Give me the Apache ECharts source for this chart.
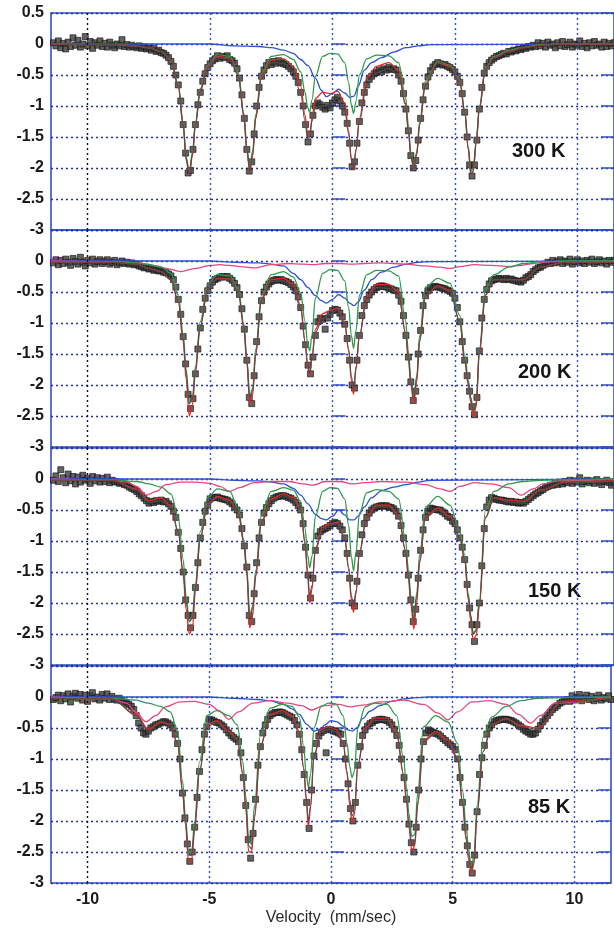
<!DOCTYPE html>
<html>
<head>
<meta charset="utf-8">
<title>Mössbauer spectra 300–85 K</title>
<script src="https://cdn.jsdelivr.net/npm/echarts/dist/echarts.min.js"></script>
<style>
  html, body { margin: 0; padding: 0; background: #ffffff; }
  #chart { width: 614px; height: 928px; }
</style>
</head>
<body>
<div id="chart"></div>
<script>
// ---- measured spectra: channel velocities (mm/s), one row = 10 channels ----
const velocity = [
  -11.4,-11.3,-11.2,-11.1,-11,-10.9,-10.8,-10.7,-10.6,-10.5,
  -10.4,-10.3,-10.2,-10.1,-10,-9.9,-9.8,-9.7,-9.6,-9.5,
  -9.4,-9.3,-9.2,-9.1,-9,-8.9,-8.8,-8.7,-8.6,-8.5,
  -8.4,-8.3,-8.2,-8.1,-8,-7.9,-7.8,-7.7,-7.6,-7.5,
  -7.4,-7.3,-7.2,-7.1,-7,-6.9,-6.8,-6.7,-6.6,-6.5,
  -6.4,-6.3,-6.2,-6.1,-6,-5.9,-5.8,-5.7,-5.6,-5.5,
  -5.4,-5.3,-5.2,-5.1,-5,-4.9,-4.8,-4.7,-4.6,-4.5,
  -4.4,-4.3,-4.2,-4.1,-4,-3.9,-3.8,-3.7,-3.6,-3.5,
  -3.4,-3.3,-3.2,-3.1,-3,-2.9,-2.8,-2.7,-2.6,-2.5,
  -2.4,-2.3,-2.2,-2.1,-2,-1.9,-1.8,-1.7,-1.6,-1.5,
  -1.4,-1.3,-1.2,-1.1,-1,-0.9,-0.8,-0.7,-0.6,-0.5,
  -0.4,-0.3,-0.2,-0.1,0,0.1,0.2,0.3,0.4,0.5,
  0.6,0.7,0.8,0.9,1,1.1,1.2,1.3,1.4,1.5,
  1.6,1.7,1.8,1.9,2,2.1,2.2,2.3,2.4,2.5,
  2.6,2.7,2.8,2.9,3,3.1,3.2,3.3,3.4,3.5,
  3.6,3.7,3.8,3.9,4,4.1,4.2,4.3,4.4,4.5,
  4.6,4.7,4.8,4.9,5,5.1,5.2,5.3,5.4,5.5,
  5.6,5.7,5.8,5.9,6,6.1,6.2,6.3,6.4,6.5,
  6.6,6.7,6.8,6.9,7,7.1,7.2,7.3,7.4,7.5,
  7.6,7.7,7.8,7.9,8,8.1,8.2,8.3,8.4,8.5,
  8.6,8.7,8.8,8.9,9,9.1,9.2,9.3,9.4,9.5,
  9.6,9.7,9.8,9.9,10,10.1,10.2,10.3,10.4,10.5,
  10.6,10.7,10.8,10.9,11,11.1,11.2,11.3,11.4,11.5
];

// relative transmission (%) per channel
const counts300 = [
  0.02,-0.03,0.05,-0.06,0.01,-0.08,0.03,-0.04,0.1,-0.02,
  0.06,-0.05,0,0.12,-0.03,0.04,-0.07,0.02,-0.02,0.05,
  -0.04,0.01,-0.05,0.03,-0.02,-0.06,0,-0.03,0.07,-0.04,
  -0.01,-0.05,-0.02,-0.04,-0.06,-0.03,-0.07,-0.05,-0.08,-0.06,
  -0.1,-0.07,-0.12,-0.1,-0.14,-0.15,-0.18,-0.22,-0.28,-0.36,
  -0.5,-0.66,-0.92,-1.3,-1.76,-2.08,-2.04,-1.7,-1.3,-0.98,
  -0.78,-0.6,-0.48,-0.38,-0.32,-0.27,-0.24,-0.19,-0.23,-0.2,
  -0.22,-0.19,-0.25,-0.27,-0.31,-0.4,-0.55,-0.82,-1.2,-1.7,
  -2.05,-1.9,-1.45,-1.0,-0.7,-0.52,-0.42,-0.35,-0.3,-0.33,
  -0.28,-0.31,-0.27,-0.3,-0.32,-0.33,-0.36,-0.4,-0.45,-0.52,
  -0.62,-0.78,-1.0,-1.3,-1.58,-1.45,-1.15,-1.0,-0.95,-0.98,
  -1.02,-1.05,-0.99,-1.03,-0.95,-0.9,-0.86,-0.92,-1.0,-1.1,
  -1.28,-1.6,-1.98,-1.9,-1.6,-1.25,-0.95,-0.78,-0.66,-0.57,
  -0.52,-0.48,-0.46,-0.42,-0.45,-0.4,-0.42,-0.38,-0.41,-0.4,
  -0.42,-0.5,-0.6,-0.8,-1.05,-1.4,-1.8,-2.0,-1.88,-1.55,
  -1.2,-0.9,-0.68,-0.53,-0.43,-0.37,-0.33,-0.3,-0.32,-0.34,
  -0.33,-0.36,-0.38,-0.41,-0.45,-0.52,-0.62,-0.8,-1.1,-1.5,
  -1.95,-2.13,-1.95,-1.55,-1.05,-0.7,-0.47,-0.36,-0.3,-0.26,
  -0.23,-0.2,-0.19,-0.17,-0.15,-0.16,-0.12,-0.13,-0.1,-0.11,
  -0.08,-0.09,-0.06,-0.07,-0.04,-0.05,-0.02,-0.04,0.02,-0.03,
  0.01,-0.05,0.03,-0.02,0,-0.06,0.02,-0.03,0.04,-0.04,
  -0.01,0.03,-0.05,0,-0.02,0.05,-0.04,0.01,-0.06,0.02,
  -0.03,0.04,-0.02,0,-0.05,0.03,-0.04,0.01,-0.03,0.02
];
const counts200 = [
  -0.03,0.02,-0.06,0.01,-0.04,0.03,-0.02,-0.07,0.04,-0.01,
  -0.05,0.06,-0.02,-0.08,0.01,-0.03,0.03,-0.05,-0.01,0.02,
  -0.04,-0.01,0.02,-0.05,-0.02,0.01,-0.06,-0.03,0,-0.04,
  -0.02,-0.05,-0.03,-0.06,-0.05,-0.08,-0.09,-0.11,-0.1,-0.13,
  -0.12,-0.15,-0.14,-0.16,-0.16,-0.18,-0.19,-0.21,-0.24,-0.3,
  -0.42,-0.62,-0.86,-1.22,-1.66,-2.15,-2.38,-2.22,-1.82,-1.42,
  -1.08,-0.78,-0.6,-0.48,-0.4,-0.34,-0.3,-0.28,-0.26,-0.25,
  -0.26,-0.25,-0.28,-0.31,-0.36,-0.43,-0.54,-0.77,-1.1,-1.6,
  -2.2,-2.3,-1.85,-1.3,-0.9,-0.64,-0.5,-0.42,-0.37,-0.33,
  -0.31,-0.3,-0.31,-0.3,-0.32,-0.33,-0.35,-0.38,-0.42,-0.48,
  -0.58,-0.75,-1.05,-1.35,-1.68,-1.82,-1.55,-1.2,-0.98,-0.92,
  -0.94,-1.1,-0.92,-0.86,-0.8,-0.78,-0.79,-0.84,-0.9,-1.02,
  -1.25,-1.6,-2.0,-2.05,-1.6,-1.2,-0.88,-0.72,-0.62,-0.55,
  -0.5,-0.46,-0.43,-0.41,-0.4,-0.41,-0.42,-0.44,-0.45,-0.47,
  -0.48,-0.55,-0.65,-0.88,-1.2,-1.55,-1.95,-2.25,-2.1,-1.5,
  -1.12,-0.72,-0.56,-0.48,-0.43,-0.42,-0.41,-0.42,-0.43,-0.44,
  -0.45,-0.47,-0.49,-0.52,-0.6,-0.75,-0.98,-1.3,-1.6,-1.85,
  -2.1,-2.35,-2.48,-2.2,-1.45,-0.92,-0.62,-0.46,-0.37,-0.32,
  -0.3,-0.29,-0.28,-0.29,-0.3,-0.28,-0.3,-0.29,-0.31,-0.32,
  -0.33,-0.34,-0.31,-0.27,-0.25,-0.22,-0.17,-0.14,-0.11,-0.1,
  -0.07,-0.05,-0.02,-0.04,0.01,-0.03,-0.01,0.02,-0.04,0,
  -0.02,0.03,-0.05,-0.01,0.02,-0.03,0,-0.04,0.01,-0.02,
  0.03,-0.04,-0.01,0.02,-0.03,0,-0.05,0.01,-0.02,0.01
];
const counts150 = [
  -0.02,0.05,-0.04,0.15,0.02,-0.06,0.08,-0.03,0.04,-0.08,
  0.03,-0.05,0.06,-0.02,0.01,-0.07,0.04,-0.03,0.02,-0.05,
  0.01,-0.04,0.03,-0.06,-0.02,-0.04,-0.05,-0.07,-0.06,-0.09,
  -0.1,-0.13,-0.15,-0.17,-0.2,-0.24,-0.27,-0.31,-0.35,-0.39,
  -0.36,-0.38,-0.35,-0.36,-0.34,-0.37,-0.36,-0.4,-0.44,-0.52,
  -0.62,-0.86,-1.12,-1.5,-1.95,-2.2,-2.4,-2.2,-1.75,-1.35,
  -0.95,-0.7,-0.52,-0.42,-0.32,-0.3,-0.3,-0.29,-0.31,-0.32,
  -0.33,-0.34,-0.37,-0.4,-0.45,-0.5,-0.58,-0.8,-1.08,-1.42,
  -2.2,-2.3,-1.85,-1.35,-0.95,-0.7,-0.55,-0.46,-0.4,-0.35,
  -0.31,-0.29,-0.28,-0.27,-0.27,-0.28,-0.3,-0.31,-0.34,-0.38,
  -0.43,-0.5,-0.72,-1.1,-1.55,-1.92,-1.6,-1.15,-0.92,-0.85,
  -0.82,-0.8,-0.78,-0.75,-0.72,-0.7,-0.72,-0.76,-0.82,-0.95,
  -1.2,-1.6,-2.0,-2.05,-1.65,-1.2,-0.9,-0.72,-0.62,-0.55,
  -0.5,-0.47,-0.45,-0.44,-0.43,-0.44,-0.43,-0.45,-0.46,-0.48,
  -0.52,-0.6,-0.75,-0.95,-1.2,-1.55,-1.95,-2.3,-2.1,-1.6,
  -1.15,-0.82,-0.62,-0.52,-0.47,-0.48,-0.49,-0.5,-0.5,-0.53,
  -0.56,-0.6,-0.62,-0.68,-0.72,-0.82,-0.95,-1.1,-1.3,-1.7,
  -2.08,-2.35,-2.62,-2.35,-2.0,-1.4,-0.8,-0.45,-0.34,-0.3,
  -0.31,-0.33,-0.34,-0.34,-0.35,-0.36,-0.37,-0.36,-0.38,-0.37,
  -0.39,-0.38,-0.39,-0.36,-0.33,-0.3,-0.27,-0.24,-0.22,-0.19,
  -0.17,-0.14,-0.12,-0.1,-0.1,-0.07,-0.09,-0.05,-0.08,-0.04,
  -0.06,-0.02,-0.07,-0.03,-0.05,0.02,-0.08,-0.04,-0.02,-0.06,
  -0.03,-0.07,-0.01,-0.05,-0.09,-0.04,-0.02,-0.06,-0.1,-0.05
];
const counts85 = [
  -0.04,-0.01,0.03,-0.06,0.02,-0.03,0.05,-0.08,0.01,0.06,
  -0.02,0.04,-0.05,0.03,-0.07,0.02,0.07,-0.03,0,-0.05,
  0.04,-0.02,0.05,-0.04,0.01,-0.03,-0.05,-0.02,-0.06,-0.08,
  -0.1,-0.12,-0.15,-0.2,-0.3,-0.42,-0.5,-0.58,-0.6,-0.55,
  -0.5,-0.48,-0.45,-0.44,-0.42,-0.4,-0.4,-0.42,-0.45,-0.5,
  -0.6,-0.75,-1.0,-1.55,-1.95,-2.37,-2.65,-2.5,-2.1,-1.62,
  -1.2,-0.85,-0.6,-0.48,-0.36,-0.37,-0.39,-0.41,-0.42,-0.45,
  -0.48,-0.53,-0.58,-0.62,-0.65,-0.68,-0.72,-0.9,-1.3,-1.75,
  -2.3,-2.6,-2.2,-1.65,-1.1,-0.8,-0.58,-0.45,-0.36,-0.3,
  -0.27,-0.25,-0.25,-0.24,-0.25,-0.27,-0.29,-0.31,-0.33,-0.38,
  -0.45,-0.6,-0.85,-1.25,-1.7,-2.12,-1.5,-0.95,-0.75,-0.63,
  -0.57,-0.54,-0.9,-0.52,-0.53,-0.55,-0.56,-0.58,-0.6,-0.75,
  -1.0,-1.4,-1.8,-2.0,-1.7,-1.1,-0.8,-0.62,-0.53,-0.47,
  -0.43,-0.41,-0.38,-0.37,-0.36,-0.36,-0.37,-0.38,-0.41,-0.45,
  -0.52,-0.62,-0.78,-1.0,-1.3,-1.65,-2.05,-2.35,-2.5,-2.1,
  -1.5,-1.0,-0.72,-0.58,-0.53,-0.55,-0.57,-0.59,-0.6,-0.63,
  -0.67,-0.7,-0.74,-0.77,-0.8,-0.85,-1.0,-1.3,-1.7,-2.1,
  -2.4,-2.7,-2.84,-2.55,-1.85,-1.25,-0.98,-0.78,-0.6,-0.5,
  -0.45,-0.4,-0.38,-0.37,-0.36,-0.36,-0.36,-0.37,-0.38,-0.4,
  -0.42,-0.45,-0.48,-0.52,-0.55,-0.57,-0.6,-0.6,-0.58,-0.52,
  -0.46,-0.4,-0.35,-0.3,-0.25,-0.2,-0.17,-0.14,-0.1,-0.08,
  -0.06,-0.04,-0.07,0.02,-0.05,-0.01,0.04,-0.06,-0.02,0.03,
  -0.04,0.01,-0.06,-0.02,0.03,-0.05,-0.01,-0.03,0.02,-0.04
];

// ---- fitted curves: total envelope and the two sextets ----
const fitVelocity = [
  -11.5,-9,-8,-7.5,-7,-6.6,-6.3,-6.1,-5.98,-5.85,
  -5.72,-5.6,-5.4,-5.1,-4.7,-4.2,-3.85,-3.62,-3.5,-3.38,
  -3.26,-3.14,-2.9,-2.5,-2,-1.6,-1.3,-1.12,-1.02,-0.93,
  -0.84,-0.7,-0.4,-0.1,0.2,0.5,0.66,0.77,0.86,0.96,
  1.1,1.4,1.8,2.3,2.7,2.98,3.1,3.2,3.32,3.44,
  3.56,3.8,4.3,4.8,5.2,5.4,5.55,5.65,5.75,5.87,
  6,6.25,6.6,7.2,7.8,8.5,9.5,11.5
];

const fit300 = [
  0,-0.01,-0.03,-0.06,-0.12,-0.25,-0.68,-1.3,-1.85,-2.1,
  -1.78,-1.3,-0.76,-0.39,-0.22,-0.24,-0.5,-1.15,-1.7,-2.05,
  -1.78,-1.2,-0.55,-0.3,-0.31,-0.45,-0.8,-1.25,-1.55,-1.5,
  -1.25,-1.02,-1.0,-0.98,-0.88,-1.08,-1.45,-1.85,-2.0,-1.7,
  -1.25,-0.66,-0.46,-0.4,-0.5,-0.98,-1.4,-1.8,-2.0,-1.78,
  -1.3,-0.66,-0.31,-0.38,-0.62,-1.1,-1.7,-2.1,-2.05,-1.6,
  -1.05,-0.41,-0.23,-0.13,-0.06,-0.02,0,0
];
const green300 = [
  0,-0.01,-0.03,-0.06,-0.12,-0.25,-0.66,-1.27,-1.82,-2.06,
  -1.74,-1.26,-0.72,-0.34,-0.17,-0.2,-0.46,-1.12,-1.68,-2.0,
  -1.72,-1.14,-0.48,-0.2,-0.17,-0.25,-0.45,-0.78,-1.02,-1.1,
  -0.9,-0.52,-0.2,-0.15,-0.16,-0.3,-0.62,-0.98,-1.12,-0.92,
  -0.5,-0.24,-0.18,-0.19,-0.3,-0.85,-1.3,-1.75,-1.98,-1.74,
  -1.25,-0.6,-0.28,-0.34,-0.58,-1.06,-1.66,-2.06,-2.0,-1.56,
  -1.0,-0.38,-0.2,-0.1,-0.05,-0.01,0,0
];
const red300 = [
  0,-0.01,-0.03,-0.06,-0.12,-0.26,-0.7,-1.32,-1.87,-2.1,
  -1.8,-1.3,-0.75,-0.36,-0.2,-0.22,-0.5,-1.18,-1.72,-2.05,
  -1.8,-1.2,-0.52,-0.26,-0.24,-0.36,-0.68,-1.15,-1.45,-1.48,
  -1.2,-0.88,-0.78,-0.8,-0.76,-0.95,-1.4,-1.88,-2.02,-1.72,
  -1.2,-0.55,-0.36,-0.3,-0.42,-0.95,-1.4,-1.82,-2.0,-1.78,
  -1.3,-0.64,-0.3,-0.36,-0.6,-1.1,-1.7,-2.1,-2.05,-1.6,
  -1.05,-0.4,-0.22,-0.12,-0.06,-0.02,0,0
];

const fit200 = [
  -0.02,-0.02,-0.05,-0.12,-0.17,-0.3,-0.64,-1.25,-1.8,-2.3,
  -2.22,-1.75,-1.05,-0.46,-0.29,-0.3,-0.5,-1.05,-1.6,-2.2,
  -2.1,-1.5,-0.62,-0.33,-0.32,-0.42,-0.78,-1.3,-1.65,-1.8,
  -1.55,-1.15,-0.93,-0.86,-0.79,-1.02,-1.42,-1.85,-2.08,-1.7,
  -1.2,-0.62,-0.43,-0.44,-0.55,-1.15,-1.55,-1.95,-2.22,-1.9,
  -1.28,-0.56,-0.42,-0.49,-0.98,-1.6,-1.97,-2.22,-2.42,-2.3,
  -1.45,-0.54,-0.3,-0.3,-0.31,-0.1,-0.02,-0.02
];
const green200 = [
  -0.01,-0.01,-0.03,-0.06,-0.1,-0.2,-0.55,-1.18,-1.75,-2.3,
  -2.2,-1.7,-0.98,-0.38,-0.22,-0.24,-0.45,-1.02,-1.58,-2.18,
  -2.05,-1.42,-0.55,-0.22,-0.17,-0.26,-0.52,-0.98,-1.32,-1.45,
  -1.2,-0.6,-0.2,-0.14,-0.15,-0.32,-0.75,-1.2,-1.41,-1.12,
  -0.55,-0.22,-0.15,-0.16,-0.24,-0.95,-1.45,-1.9,-2.2,-1.86,
  -1.2,-0.42,-0.28,-0.36,-0.88,-1.52,-1.92,-2.2,-2.42,-2.28,
  -1.42,-0.45,-0.22,-0.1,-0.04,-0.01,0,0
];
const red200 = [
  -0.02,-0.02,-0.05,-0.12,-0.17,-0.3,-0.66,-1.3,-1.9,-2.5,
  -2.32,-1.8,-1.05,-0.45,-0.28,-0.29,-0.5,-1.08,-1.65,-2.3,
  -2.15,-1.52,-0.6,-0.3,-0.28,-0.38,-0.72,-1.3,-1.7,-1.85,
  -1.58,-1.1,-0.85,-0.8,-0.76,-1.0,-1.45,-1.92,-2.15,-1.75,
  -1.2,-0.58,-0.38,-0.38,-0.5,-1.15,-1.58,-2.0,-2.3,-1.95,
  -1.3,-0.55,-0.4,-0.47,-0.98,-1.62,-2.0,-2.28,-2.52,-2.35,
  -1.5,-0.55,-0.3,-0.3,-0.3,-0.1,-0.02,-0.02
];

const fit150 = [
  -0.02,-0.02,-0.18,-0.38,-0.35,-0.45,-0.86,-1.5,-2.0,-2.3,
  -2.25,-1.75,-0.95,-0.42,-0.3,-0.37,-0.54,-1.02,-1.5,-2.25,
  -2.1,-1.55,-0.7,-0.35,-0.27,-0.34,-0.5,-1.02,-1.48,-1.88,
  -1.72,-1.15,-0.82,-0.75,-0.72,-0.95,-1.42,-1.88,-2.05,-1.8,
  -1.2,-0.62,-0.45,-0.45,-0.6,-1.15,-1.55,-1.95,-2.28,-1.9,
  -1.32,-0.62,-0.5,-0.63,-0.95,-1.3,-1.9,-2.22,-2.5,-2.45,
  -2.0,-0.62,-0.31,-0.37,-0.39,-0.19,-0.06,-0.04
];
const green150 = [
  -0.01,-0.01,-0.04,-0.08,-0.13,-0.24,-0.62,-1.3,-1.9,-2.3,
  -2.2,-1.68,-0.85,-0.3,-0.16,-0.2,-0.48,-0.98,-1.45,-2.2,
  -2.05,-1.48,-0.58,-0.2,-0.14,-0.18,-0.36,-0.8,-1.22,-1.43,
  -1.25,-0.6,-0.2,-0.14,-0.15,-0.32,-0.75,-1.25,-1.48,-1.18,
  -0.55,-0.22,-0.17,-0.2,-0.32,-0.98,-1.45,-1.88,-2.25,-1.85,
  -1.22,-0.45,-0.28,-0.42,-0.85,-1.22,-1.85,-2.2,-2.5,-2.42,
  -1.95,-0.5,-0.2,-0.08,-0.04,-0.02,-0.01,0
];
const red150 = [
  -0.02,-0.02,-0.16,-0.35,-0.31,-0.43,-0.86,-1.55,-2.1,-2.5,
  -2.4,-1.8,-0.95,-0.4,-0.28,-0.34,-0.54,-1.05,-1.55,-2.4,
  -2.2,-1.58,-0.68,-0.32,-0.24,-0.3,-0.48,-1.05,-1.55,-2.0,
  -1.78,-1.12,-0.78,-0.72,-0.7,-0.95,-1.45,-1.95,-2.15,-1.85,
  -1.18,-0.6,-0.42,-0.42,-0.58,-1.15,-1.6,-2.02,-2.42,-2.0,
  -1.35,-0.6,-0.47,-0.6,-0.95,-1.32,-1.95,-2.3,-2.6,-2.52,
  -2.05,-0.62,-0.3,-0.34,-0.36,-0.18,-0.05,-0.03
];

const fit85 = [
  -0.02,-0.03,-0.3,-0.55,-0.42,-0.45,-0.75,-1.5,-2.0,-2.55,
  -2.55,-2.1,-1.2,-0.48,-0.41,-0.58,-0.7,-1.22,-1.75,-2.4,
  -2.45,-1.9,-0.8,-0.3,-0.25,-0.33,-0.6,-1.15,-1.6,-2.0,
  -1.75,-0.95,-0.57,-0.52,-0.56,-0.75,-1.2,-1.65,-1.92,-1.85,
  -1.1,-0.53,-0.38,-0.38,-0.62,-1.25,-1.65,-2.05,-2.38,-2.35,
  -1.7,-0.72,-0.59,-0.74,-1.0,-1.7,-2.25,-2.55,-2.78,-2.65,
  -1.85,-0.88,-0.45,-0.36,-0.48,-0.52,-0.08,-0.02
];
const green85 = [
  -0.01,-0.02,-0.05,-0.1,-0.15,-0.24,-0.55,-1.35,-1.92,-2.5,
  -2.5,-2.0,-1.05,-0.3,-0.22,-0.3,-0.45,-1.05,-1.6,-2.3,
  -2.38,-1.75,-0.62,-0.18,-0.12,-0.15,-0.32,-0.8,-1.25,-1.45,
  -1.25,-0.5,-0.15,-0.1,-0.11,-0.3,-0.75,-1.12,-1.3,-1.2,
  -0.5,-0.16,-0.1,-0.12,-0.3,-1.0,-1.45,-1.88,-2.25,-2.22,
  -1.55,-0.48,-0.3,-0.4,-0.75,-1.5,-2.1,-2.45,-2.72,-2.6,
  -1.75,-0.65,-0.32,-0.15,-0.06,-0.02,-0.01,0
];
const red85 = [
  -0.02,-0.03,-0.28,-0.52,-0.4,-0.44,-0.76,-1.52,-2.05,-2.65,
  -2.62,-2.15,-1.2,-0.46,-0.38,-0.55,-0.68,-1.25,-1.8,-2.5,
  -2.5,-1.95,-0.78,-0.28,-0.22,-0.3,-0.56,-1.15,-1.65,-2.1,
  -1.78,-0.95,-0.52,-0.48,-0.52,-0.72,-1.25,-1.75,-2.02,-1.9,
  -1.1,-0.5,-0.34,-0.34,-0.58,-1.25,-1.68,-2.1,-2.48,-2.4,
  -1.75,-0.7,-0.56,-0.7,-0.98,-1.72,-2.3,-2.62,-2.85,-2.7,
  -1.88,-0.88,-0.44,-0.35,-0.46,-0.5,-0.07,-0.02
];

// ---- broad central doublet ----
const bandVelocity = [
  -11.5,-5,-4,-3,-2.5,-2,-1.6,-1.3,-1,-0.7,
  -0.45,-0.25,0,0.25,0.5,0.7,0.88,1.05,1.3,1.6,
  2,2.5,3,3.5,4,11.5
];
const blue300 = [
  0,0,-0.03,-0.04,-0.06,-0.1,-0.15,-0.25,-0.35,-0.55,
  -0.75,-0.85,-0.8,-0.73,-0.79,-0.86,-0.84,-0.68,-0.42,-0.3,
  -0.22,-0.13,-0.06,-0.03,-0.01,0
];
const blue200 = [
  0,0,-0.02,-0.03,-0.05,-0.08,-0.2,-0.3,-0.43,-0.56,
  -0.64,-0.68,-0.62,-0.54,-0.6,-0.68,-0.72,-0.66,-0.47,-0.3,
  -0.18,-0.1,-0.05,-0.02,-0.01,0
];
const blue150 = [
  0,0,-0.02,-0.03,-0.05,-0.08,-0.15,-0.26,-0.4,-0.57,
  -0.64,-0.66,-0.6,-0.5,-0.58,-0.66,-0.66,-0.6,-0.45,-0.3,
  -0.19,-0.13,-0.09,-0.05,-0.02,0
];
const blue85 = [
  0,0,-0.02,-0.04,-0.06,-0.11,-0.19,-0.28,-0.44,-0.55,
  -0.52,-0.45,-0.38,-0.4,-0.47,-0.53,-0.55,-0.5,-0.35,-0.23,
  -0.14,-0.07,-0.03,-0.01,0,0
];

// ---- broad, weak sextet (below 300 K) ----
const wideVelocity = [
  -11.5,-9,-8.4,-8,-7.6,-7.2,-6.8,-6.2,-5.6,-5,
  -4.6,-4.2,-3.8,-3.2,-2.5,-1.8,-1.2,-0.8,-0.3,0.3,
  0.8,1.3,2,3,3.8,4.4,4.8,5.2,5.8,6.5,
  7.2,7.7,8.2,8.6,9.2,11.5
];
const pink200 = [
  0,-0.01,-0.02,-0.03,-0.05,-0.08,-0.12,-0.17,-0.12,-0.07,
  -0.06,-0.07,-0.09,-0.11,-0.06,-0.04,-0.05,-0.06,-0.04,-0.04,
  -0.05,-0.04,-0.03,-0.05,-0.08,-0.1,-0.12,-0.09,-0.06,-0.07,
  -0.09,-0.07,-0.04,-0.02,-0.01,0
];
const pink150 = [
  0,-0.02,-0.05,-0.12,-0.26,-0.2,-0.09,-0.05,-0.05,-0.07,
  -0.12,-0.2,-0.14,-0.06,-0.04,-0.04,-0.08,-0.1,-0.04,-0.04,
  -0.08,-0.06,-0.04,-0.05,-0.09,-0.16,-0.2,-0.12,-0.06,-0.08,
  -0.14,-0.26,-0.16,-0.08,-0.03,0
];
const pink85 = [
  0,-0.03,-0.1,-0.25,-0.4,-0.3,-0.16,-0.08,-0.07,-0.12,
  -0.22,-0.36,-0.24,-0.1,-0.06,-0.1,-0.14,-0.21,-0.14,-0.12,
  -0.16,-0.13,-0.08,-0.05,-0.12,-0.26,-0.37,-0.24,-0.08,-0.06,
  -0.12,-0.28,-0.42,-0.3,-0.1,0
];

const temperatures = ['300 K', '200 K', '150 K', '85 K'];
const velocityTicks = [-10, -5, 0, 5, 10];

// ---- layout and styling ----
const FONT = '"Liberation Sans", Arial, Helvetica, sans-serif';
const FRAME_BLUE = '#2f50c6';
const GRID_NAVY = '#27329c';
const GRID_BLUE = '#3452cf';
const layout = {
  left: 51,
  tops: [13, 230, 448, 666],
  height: 217,
  tempLabel: [[512, 151], [518, 372], [528, 591], [528, 807]]
};

const panels = [
  { counts: counts300, fit: fit300, green: green300, red: red300, blue: blue300, pink: null },
  { counts: counts200, fit: fit200, green: green200, red: red200, blue: blue200, pink: pink200 },
  { counts: counts150, fit: fit150, green: green150, red: red150, blue: blue150, pink: pink150 },
  { counts: counts85,  fit: fit85,  green: green85,  red: red85,  blue: blue85,  pink: pink85 }
];

const pairs = (xs, ys) => xs.map((x, i) => [x, ys[i]]);

const grids = [], xAxes = [], yAxes = [], series = [];

panels.forEach((p, i) => {
  const last = i === panels.length - 1;
  grids.push({
    left: layout.left, right: 0, top: layout.tops[i], height: layout.height,
    show: true, borderColor: FRAME_BLUE, borderWidth: 1.6, backgroundColor: 'transparent'
  });
  xAxes.push({
    type: 'value', gridIndex: i, min: -11.5, max: 11.5, splitNumber: 5,
    axisLine: { show: false }, axisTick: { show: false }, splitLine: { show: false },
    axisLabel: {
      show: last, fontSize: 16, fontWeight: 'bold', color: '#1a1a1a', fontFamily: FONT, margin: 9,
      formatter: v => (velocityTicks.indexOf(v) >= 0 ? String(v) : '')
    },
    name: last ? 'Velocity  (mm/sec)' : '',
    nameLocation: 'middle', nameGap: 27,
    nameTextStyle: { fontSize: 16, color: '#2a2a2a', fontFamily: FONT }
  });
  yAxes.push({
    type: 'value', gridIndex: i, position: 'left', min: -3, max: 0.5, interval: 0.5,
    axisLine: { show: false },
    axisTick: { show: true, inside: true, length: 13, lineStyle: { color: FRAME_BLUE, width: 1.5 } },
    axisLabel: {
      fontSize: 16, fontWeight: 'bold', color: '#1a1a1a', fontFamily: FONT, margin: 7,
      showMaxLabel: i === 0, showMinLabel: true
    },
    splitLine: { show: true, lineStyle: { color: GRID_NAVY, type: [2, 3], width: 1.3 } }
  });
  yAxes.push({
    type: 'value', gridIndex: i, position: 'right', min: -3, max: 0.5, interval: 0.5,
    axisLine: { show: false },
    axisTick: { show: true, inside: true, length: 13, lineStyle: { color: FRAME_BLUE, width: 1.5 } },
    axisLabel: { show: false }, splitLine: { show: false }
  });

  const axisRef = { xAxisIndex: i, yAxisIndex: 2 * i };
  const curve = (name, xs, ys, color, width) => Object.assign({
    name, type: 'line', data: pairs(xs, ys), showSymbol: false, symbol: 'none',
    smooth: 0.35, smoothMonotone: 'x', silent: true,
    lineStyle: { color, width }
  }, axisRef);

  const blue = curve('doublet', bandVelocity, p.blue, '#2d52d6', 1.3);
  blue.markLine = {
    silent: true, symbol: 'none', label: { show: false }, animation: false,
    data: velocityTicks.map(v => ({
      xAxis: v,
      lineStyle: { color: v === -10 ? '#111' : GRID_BLUE, type: [2, 3], width: 1.4 }
    }))
  };
  series.push(blue);
  if (p.pink) series.push(curve('broad sextet', wideVelocity, p.pink, '#e8467f', 1.3));
  series.push(curve('sextet A', fitVelocity, p.green, '#2f9a4c', 1.3));
  series.push(curve('sextet B', fitVelocity, p.red, '#e42a22', 1.3));
  series.push(curve('total fit', fitVelocity, p.fit, '#505050', 1.1));
  series.push(Object.assign({
    name: 'data', type: 'scatter', data: pairs(velocity, p.counts),
    symbol: 'rect', symbolSize: 6, silent: true,
    itemStyle: { color: '#3c3c3c', borderColor: '#111111', borderWidth: 0.8 }
  }, axisRef));
});

const graphic = temperatures.map((t, i) => ({
  type: 'text', x: layout.tempLabel[i][0], y: layout.tempLabel[i][1], silent: true,
  style: { text: t, fontSize: 20, fontWeight: 'bold', fontFamily: FONT, fill: '#151515', verticalAlign: 'middle' }
}));

const chart = echarts.init(document.getElementById('chart'), null, { renderer: 'canvas' });
chart.setOption({
  animation: false,
  backgroundColor: '#ffffff',
  grid: grids,
  xAxis: xAxes,
  yAxis: yAxes,
  series: series,
  graphic: graphic
});
</script>
</body>
</html>
